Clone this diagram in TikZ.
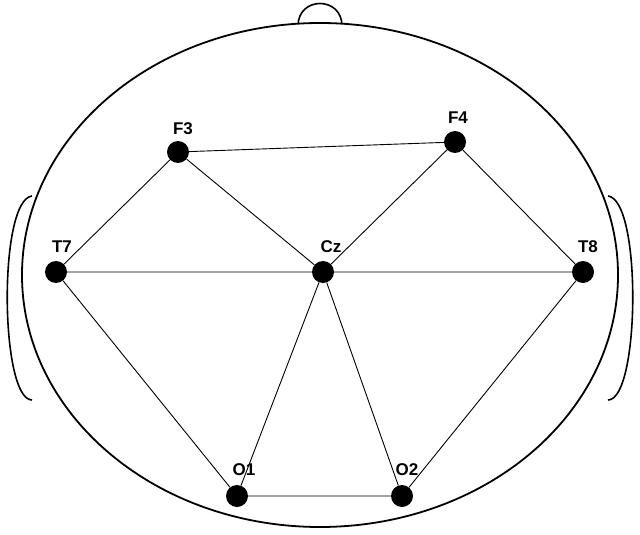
\documentclass[tikz,border=0pt]{standalone}
\usepackage{fontspec}
\setmainfont{Liberation Sans}
\begin{document}
\begin{tikzpicture}[x=1pt,y=-1pt,
  el/.style={circle,fill=black,minimum size=22pt,inner sep=0pt},
  lab/.style={font=\bfseries\fontsize{17}{17}\selectfont,inner sep=0pt},
  edge/.style={line width=0.9pt}]
\useasboundingbox (0,0) rectangle (640,535);
% nose
\draw[line width=1.6pt,fill=white] (298,26) .. controls (298,-4) and (342,-4) .. (342,26);
% ears
\draw[line width=1.6pt,fill=white] (32,196) .. controls (-2,200) and (0,400) .. (32,400);
\draw[line width=1.6pt,fill=white] (608,196) .. controls (642,200) and (640,400) .. (608,400);
% head
\draw[line width=1.8pt,fill=white] (320,275) ellipse [x radius=298,y radius=252];
\node[el] (F3) at (178,152) {};
\node[el] (F4) at (455,142) {};
\node[el] (T7) at (56,272) {};
\node[el] (Cz) at (323,272) {};
\node[el] (T8) at (583,272) {};
\node[el] (O1) at (237,496) {};
\node[el] (O2) at (402,496) {};
\node[lab] at (183,129) {F3};
\node[lab] at (458,118) {F4};
\node[lab] at (62,247) {T7};
\node[lab] at (331,247) {Cz};
\node[lab] at (588,247) {T8};
\node[lab] at (244,470) {O1};
\node[lab] at (407,470) {O2};
\begin{scope}[on background layer/.style={}]
\draw[edge] (F3)--(F4) (F3)--(T7) (F3)--(Cz) (F4)--(Cz) (F4)--(T8)
  (T7)--(Cz) (Cz)--(T8) (T7)--(O1) (Cz)--(O1) (Cz)--(O2) (O1)--(O2) (O2)--(T8);
\end{scope}
\end{tikzpicture}
\end{document}
